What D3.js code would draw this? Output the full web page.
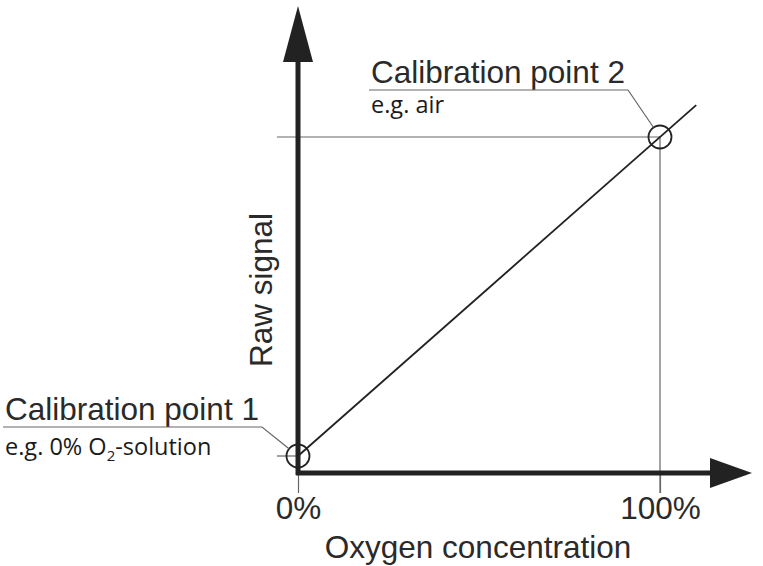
<!DOCTYPE html>
<meta charset="utf-8">
<style>
    body { margin: 0; background: #fff; }
    svg { display: block; }
    .big { font: 31.5px "Liberation Sans", Arial, sans-serif; fill: #2a2a2a; }
    .small { font: 23.5px "Open Sans", sans-serif; fill: #1a1a1a; }
    .thin { stroke: #666; stroke-width: 1.2; fill: none; }
</style>
<body>
<script src="https://cdn.jsdelivr.net/npm/d3@7"></script>
<script>
    // calibration points in (oxygen %, raw signal %) units
    const points = [
        {x: 0, y: 0, title: "Calibration point 1", note: "e.g. 0% O", sub: "2", rest: "-solution"},
        {x: 100, y: 100, title: "Calibration point 2", note: "e.g. air", sub: "", rest: ""}
    ];
    const lineX = [0, 110];          // extent of the calibration line
    const xTicks = [0, 100];
    const xLabel = "Oxygen concentration";
    const yLabel = "Raw signal";

    const width = 763, height = 566;
    const svg = d3.select("body").append("svg")
        .attr("width", width).attr("height", height);

    const x = d3.scaleLinear().domain([0, 100]).range([298, 660]);
    const y = d3.scaleLinear().domain([0, 100]).range([456, 137]);
    const axisY = 473;   // pixel row of the x axis
    const axisX = x(0);  // pixel column of the y axis

    // thin guide lines to calibration point 2 and tick at point 1
    svg.append("line").attr("class", "thin")
        .attr("x1", axisX - 21).attr("x2", x(100)).attr("y1", y(100)).attr("y2", y(100));
    svg.append("line").attr("class", "thin")
        .attr("x1", x(100)).attr("x2", x(100)).attr("y1", y(100)).attr("y2", axisY + 20);
    svg.append("line").attr("class", "thin")
        .attr("x1", axisX - 21).attr("x2", axisX).attr("y1", y(0)).attr("y2", y(0));

    // x axis ticks
    const xAxis = d3.axisBottom(x).tickValues(xTicks).tickSize(20).tickFormat(d => d + "%");
    const gx = svg.append("g").attr("transform", "translate(0," + axisY + ")").call(xAxis);
    gx.select(".domain").remove();
    gx.selectAll(".tick line").attr("stroke", "#666").attr("stroke-width", 1.2);
    gx.selectAll(".tick text").attr("class", "big").attr("y", 46).attr("dy", 0)
        .attr("fill", null);
    gx.attr("font-size", null).attr("font-family", null);

    // thick axes with arrow heads
    svg.append("line")
        .attr("x1", axisX).attr("x2", axisX).attr("y1", axisY + 2).attr("y2", 60)
        .attr("stroke", "#222").attr("stroke-width", 5);
    svg.append("path")
        .attr("d", "M" + axisX + ",6 L" + (axisX - 15) + ",62 L" + (axisX + 15) + ",62 Z")
        .attr("fill", "#222");
    svg.append("line")
        .attr("x1", axisX - 2).attr("x2", 712).attr("y1", axisY).attr("y2", axisY)
        .attr("stroke", "#222").attr("stroke-width", 5);
    svg.append("path")
        .attr("d", "M752," + axisY + " L710," + (axisY - 15) + " L710," + (axisY + 15) + " Z")
        .attr("fill", "#222");

    // calibration line
    svg.append("line")
        .attr("x1", x(lineX[0])).attr("y1", y(lineX[0]))
        .attr("x2", x(lineX[1])).attr("y2", y(lineX[1]))
        .attr("stroke", "#222").attr("stroke-width", 1.8);

    // circles
    svg.selectAll("circle.pt").data(points).enter().append("circle")
        .attr("class", "pt")
        .attr("cx", d => x(d.x)).attr("cy", d => y(d.y)).attr("r", 11.5)
        .attr("fill", "none").attr("stroke", "#222").attr("stroke-width", 1.8);

    // callouts
    const callouts = [
        {tx: 5, base: 420, lineEnd: 262, subBase: 455},
        {tx: 371, base: 83, lineEnd: 628, subBase: 113}
    ];
    points.forEach((d, i) => {
        const c = callouts[i];
        const cx = x(d.x), cy = y(d.y);
        const ang = Math.atan2(cy - (c.base + 7), cx - c.lineEnd);
        svg.append("text").attr("class", "big").attr("x", c.tx).attr("y", c.base).text(d.title);
        svg.append("path").attr("class", "thin")
            .attr("d", "M" + (c.tx - 2) + "," + (c.base + 7) + " L" + c.lineEnd + "," + (c.base + 7) +
                " L" + (cx - 11.5 * Math.cos(ang)) + "," + (cy - 11.5 * Math.sin(ang)));
        const t = svg.append("text").attr("class", "small").attr("x", c.tx).attr("y", c.subBase);
        t.append("tspan").text(d.note);
        if (d.sub) {
            t.append("tspan").attr("dy", 6).style("font-size", "15px").text(d.sub);
            t.append("tspan").attr("dy", -6).text(d.rest);
        }
    });

    // axis titles
    svg.append("text").attr("class", "big")
        .attr("x", 478).attr("y", 558).attr("text-anchor", "middle").text(xLabel);
    svg.append("text").attr("class", "big")
        .attr("transform", "translate(272,290) rotate(-90)")
        .attr("text-anchor", "middle").text(yLabel);
</script>
</body>
